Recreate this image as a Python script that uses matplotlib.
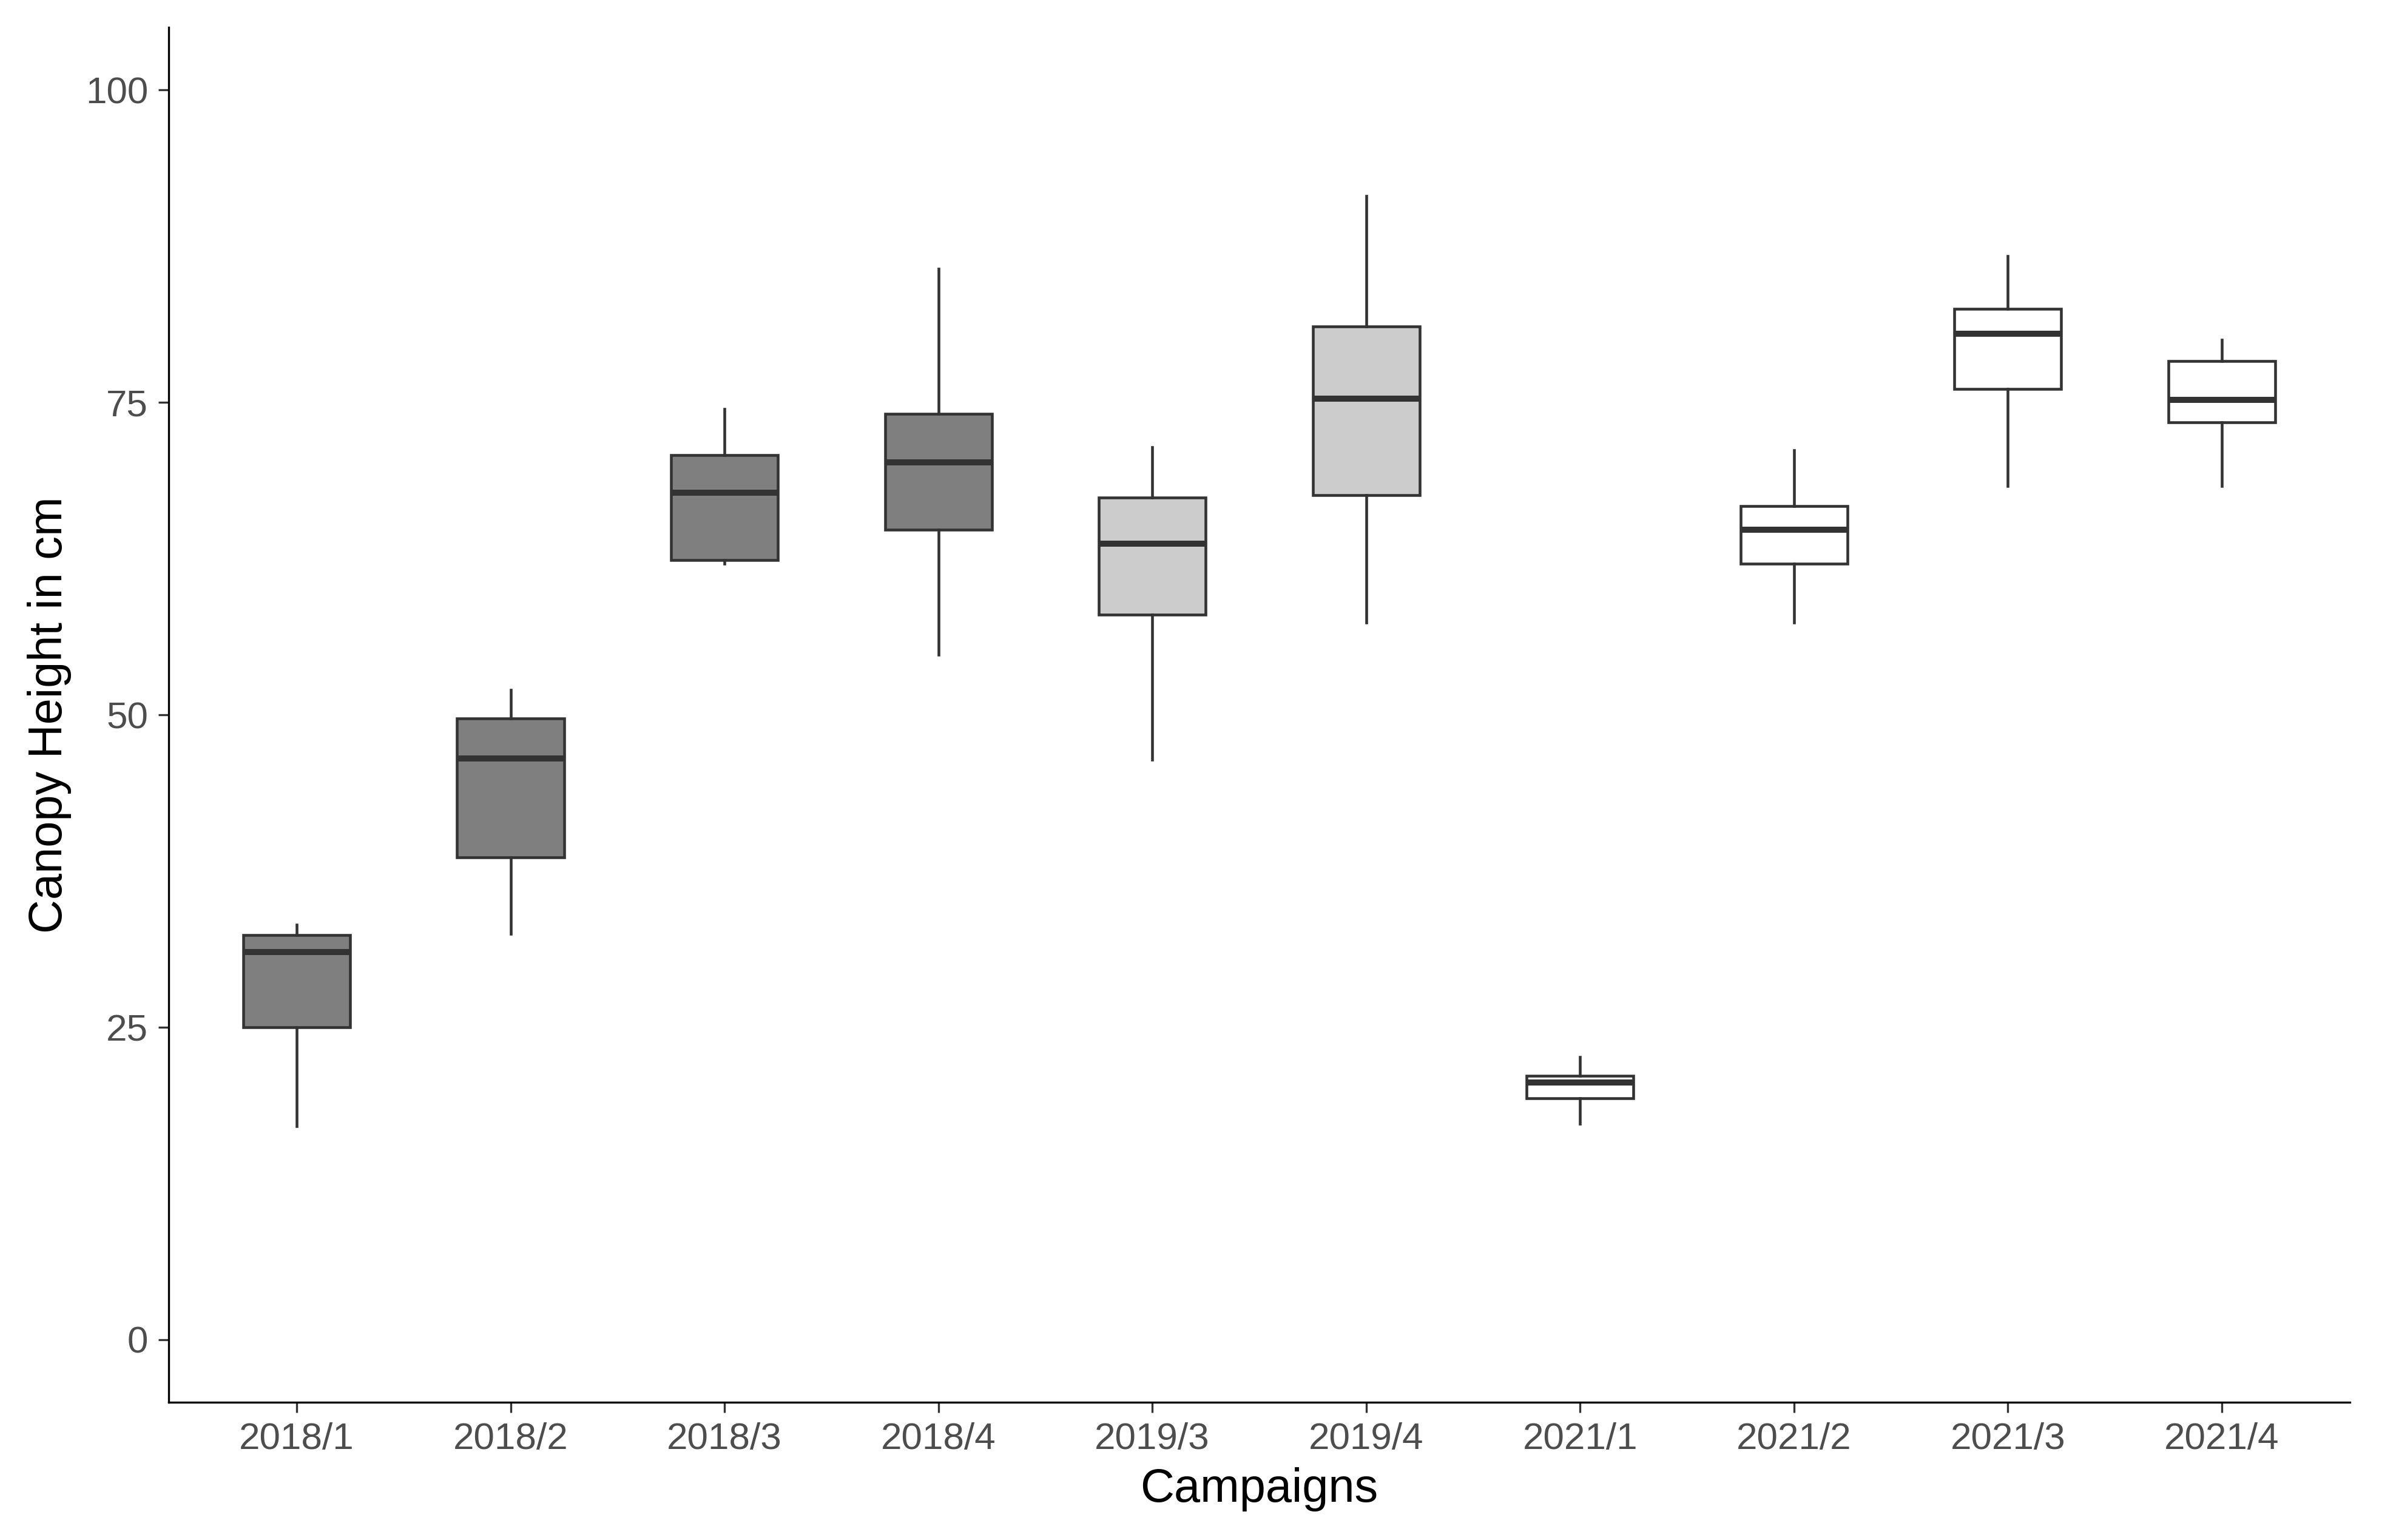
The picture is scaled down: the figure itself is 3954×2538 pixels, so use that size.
import matplotlib.pyplot as plt
import numpy as np

plt.rcParams['font.family'] = ['Liberation Sans', 'DejaVu Sans']

# campaigns and box statistics
campaigns = ['2018/1', '2018/2', '2018/3', '2018/4', '2019/3',
             '2019/4', '2021/1', '2021/2', '2021/3', '2021/4']
whisker_low = [17.1, 32.5, 62.1, 54.8, 46.4, 57.4, 17.3, 57.4, 68.3, 68.3]
q1 = [25.0, 38.6, 62.4, 64.8, 58.0, 67.6, 19.3, 62.1, 76.1, 73.4]
median = [31.0, 46.5, 67.8, 70.2, 63.7, 75.3, 20.6, 64.8, 80.5, 75.2]
q3 = [32.4, 49.7, 70.8, 74.1, 67.4, 81.1, 21.1, 66.7, 82.5, 78.3]
whisker_high = [33.2, 52.0, 74.5, 85.7, 71.4, 91.5, 22.6, 71.2, 86.7, 80.0]
year = ['2018'] * 4 + ['2019'] * 2 + ['2021'] * 4
year_colors = {'2018': '#7F7F7F', '2019': '#CCCCCC', '2021': '#FFFFFF'}

stats = []
for i in range(len(campaigns)):
    stats.append({'whislo': whisker_low[i], 'q1': q1[i], 'med': median[i],
                  'q3': q3[i], 'whishi': whisker_high[i], 'fliers': [],
                  'label': campaigns[i]})

fig = plt.figure(figsize=(3954 / 300, 2538 / 300), dpi=300)
ax = fig.add_axes([0.0702, 0.0895, 0.9094, 0.8926])

edge = '#333333'
bp = ax.bxp(stats, positions=np.arange(1, 11), widths=0.5, showcaps=False,
            patch_artist=True,
            boxprops=dict(edgecolor=edge, linewidth=1.1),
            whiskerprops=dict(color=edge, linewidth=1.1),
            medianprops=dict(color=edge, linewidth=2.4))
for patch, y in zip(bp['boxes'], year):
    patch.set_facecolor(year_colors[y])

ax.set_xlim(0.4, 10.6)
ax.set_ylim(-5, 105)
ax.set_yticks([0, 25, 50, 75, 100])
ax.set_xticks(np.arange(1, 11))
ax.set_xticklabels(campaigns)

for s in ['top', 'right']:
    ax.spines[s].set_visible(False)
for s in ['left', 'bottom']:
    ax.spines[s].set_linewidth(0.8)
    ax.spines[s].set_color('black')

ax.tick_params(axis='both', length=4, width=0.8, color='#333333',
               labelcolor='#4D4D4D', labelsize=14.9, pad=4)

ax.set_xlabel('Campaigns', fontsize=18.6, color='black', labelpad=4)
ax.set_ylabel('Canopy Height in cm', fontsize=18.6, color='black', labelpad=5.5)

fig.savefig('out.png', dpi=300)
